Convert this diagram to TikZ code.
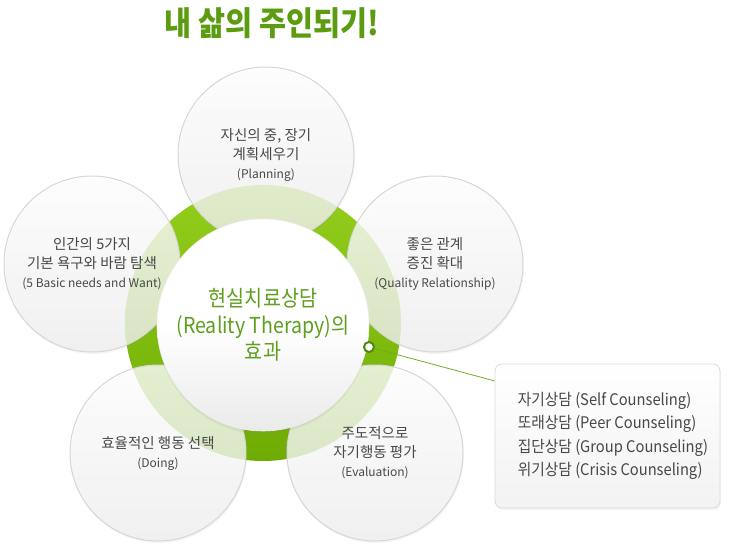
\documentclass[tikz,border=0pt]{standalone}
\usepackage{fontspec}
\newfontfamily\kr{Noto Sans CJK KR}
\newfontfamily\krn{Noto Sans CJK KR}[FakeStretch=0.89]
\newfontfamily\krb{Noto Sans CJK KR}[FakeStretch=0.92]
\newfontfamily\krt{Noto Sans CJK KR}[FakeStretch=0.89]
\usetikzlibrary{shadows}
\definecolor{ringtop}{HTML}{94CE1C}
\definecolor{ringbot}{HTML}{6EAC04}
\definecolor{titlegreen}{HTML}{5C9C10}
\definecolor{centergreen}{HTML}{5E9F1E}
\definecolor{dotgreen}{HTML}{4E8A12}
\definecolor{linegreen}{HTML}{6FAE22}
\definecolor{txtgray}{HTML}{474747}
\definecolor{petalline}{HTML}{D6D6D6}
\definecolor{boxline}{HTML}{DADADA}
\tikzset{
  petal/.style={circle, minimum size=176pt, inner sep=0pt, draw=petalline, line width=1pt,
    top color=white, bottom color=black!6, fill opacity=0.8, draw opacity=1, text opacity=1,
    text=txtgray, align=center,
    drop shadow={opacity=0.08, shadow xshift=1pt, shadow yshift=-2pt}},
  hub/.style={circle, minimum size=212pt, inner sep=0pt, draw=black!6, line width=0.6pt,
    top color=white, bottom color=black!8, middle color=white,
    drop shadow={opacity=0.12, shadow xshift=0pt, shadow yshift=-3pt},
    text=centergreen, align=center},
  infobox/.style={rectangle, rounded corners=7pt, minimum width=225pt, minimum height=144pt,
    draw=boxline, line width=0.8pt, top color=white, bottom color=black!5,
    drop shadow={opacity=0.08, shadow xshift=1pt, shadow yshift=-2pt}},
  ko/.style={font=\kr\fontsize{14.5}{19}\selectfont},
}
\newcommand{\eng}[1]{{\fontsize{12}{19}\selectfont #1}}
\begin{document}
\begin{tikzpicture}[x=1pt,y=-1pt]
\useasboundingbox (0,0) rectangle (729,557);
% title
\node[text=titlegreen, font=\krt\bfseries\fontsize{33}{36}\selectfont] (title) at (272,23) {내 삶의 주인되기!};
% green ring
\shade[top color=ringtop, bottom color=ringbot] (263,323) circle[radius=138pt];
% petals
\node[petal, ko] (plan) at (266,155) {자신의 중, 장기\\계획세우기\\\eng{(Planning)}};
\node[petal, ko] (need) at (92,264) {인간의 5가지\\기본 욕구와 바람 탐색\\\eng{(5 Basic needs and Want)}};
\node[petal, ko] (qual) at (435,264) {좋은 관계\\증진 확대\\\eng{(Quality Relationship)}};
\node[petal, ko] (doing) at (158,453) {효율적인 행동 선택\\\eng{(Doing)}};
\node[petal, ko] (eval) at (375,453) {주도적으로\\자기행동 평가\\\eng{(Evaluation)}};
% hub
\node[hub, font=\krn\fontsize{22}{26.5}\selectfont] (hub) at (263,325) {현실치료상담\\(Reality Therapy)의\\효과};
% info box
\node[infobox] (box) at (607.5,436) {};
\node[anchor=west, text=txtgray, align=left, font=\krb\fontsize{16}{23.5}\selectfont, inner sep=0pt]
  (boxtext) at ([xshift=23pt]box.west) {자기상담 (Self Counseling)\\또래상담 (Peer Counseling)\\집단상담 (Group Counseling)\\위기상담 (Crisis Counseling)};
% connector
\node[circle, minimum size=10pt, inner sep=0pt, fill=white, draw=dotgreen, line width=2pt] (dot) at (369,347) {};
\draw[linegreen, line width=0.8pt] (dot) -- (box.154);
\end{tikzpicture}
\end{document}
